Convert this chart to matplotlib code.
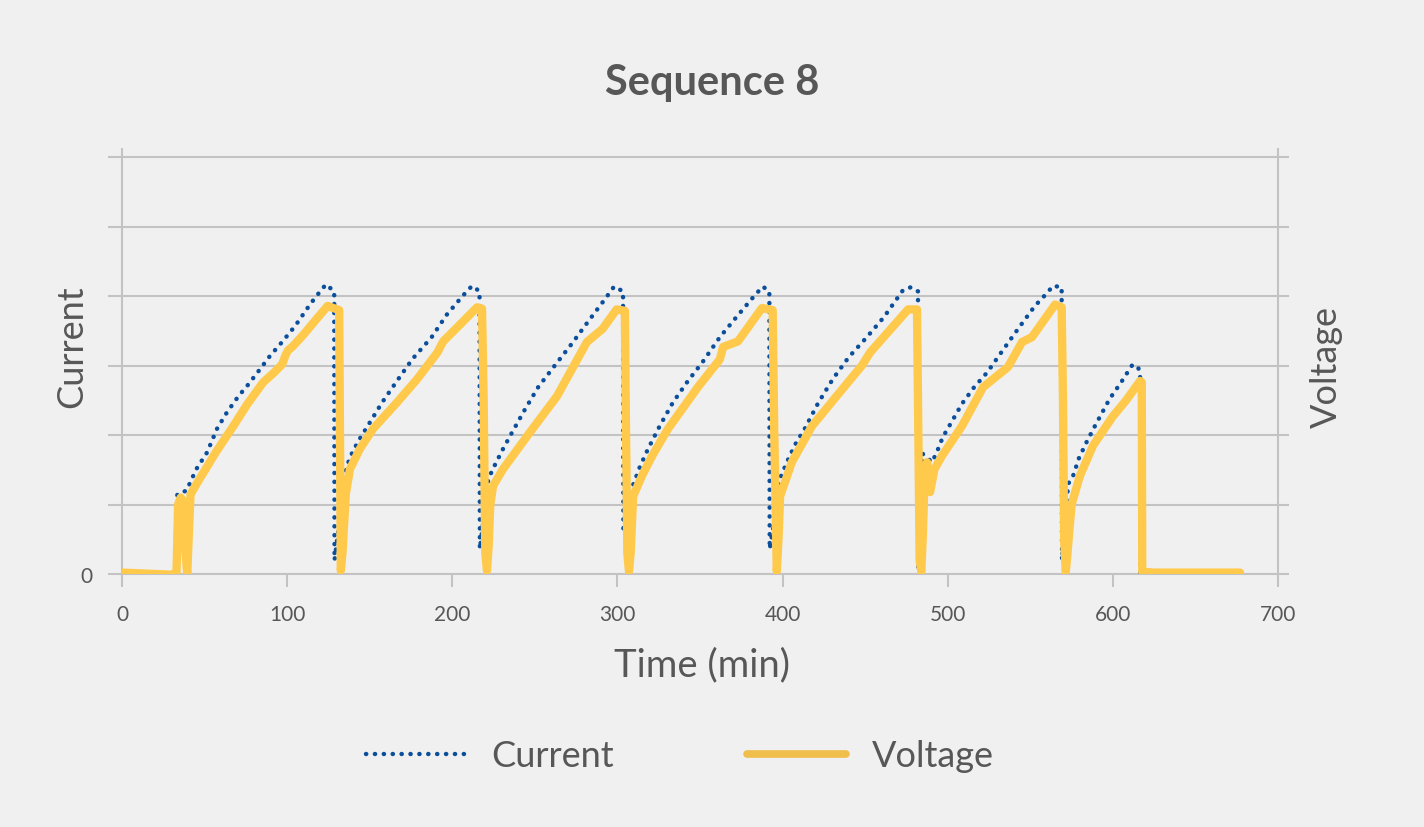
import matplotlib
matplotlib.use("Agg")
import matplotlib.pyplot as plt
from matplotlib.lines import Line2D

# Voltage trace (time in min, value in grid units)
volt_t = [0, 10, 20, 30, 33, 34, 35.5, 37, 38.5, 39.5, 40.5, 41.5, 47, 57, 67.4, 76, 85.5,
          92, 97, 99, 100.5, 103.5, 110, 117, 124.5, 131.5, 132, 132.5, 133.5, 135.5, 138,
          144, 152, 166.5, 178.5, 191, 194.5, 205, 215, 218, 219, 220, 221, 222, 223,
          224.7, 230.7, 247, 263.4, 281.5, 291, 299.5, 304.5, 305, 306, 307, 308, 309.5,
          315, 321, 330.6, 349, 362, 364, 373, 387.5, 394, 395, 396.5, 397.5, 398.5,
          405.6, 417.8, 439.6, 448, 453, 476, 481.4, 482, 483, 484, 485, 486, 487.5,
          489.3, 492, 496.5, 508.6, 521.4, 536.5, 545, 551, 565, 569, 569.8, 570.5,
          571.5, 572.5, 575, 580, 588, 600, 608, 616.5, 617.5, 617.8, 625, 650, 677]
volt_v = [0.02, 0.01, 0.0, -0.01, 0.02, 1.0, 1.1, 1.05, 0.3, 0.0, 0.6, 1.15, 1.37, 1.76,
          2.13, 2.45, 2.76, 2.9, 3.02, 3.15, 3.22, 3.28, 3.45, 3.65, 3.86, 3.8, 2.0, 0.05,
          0.3, 1.15, 1.51, 1.8, 2.09, 2.47, 2.8, 3.19, 3.35, 3.6, 3.84, 3.82, 2.5, 0.3,
          0.05, 0.4, 1.0, 1.27, 1.51, 2.04, 2.56, 3.34, 3.53, 3.81, 3.79, 2.5, 0.3, 0.04,
          0.3, 1.12, 1.42, 1.7, 2.09, 2.7, 3.09, 3.27, 3.35, 3.83, 3.8, 2.0, 0.04, 0.5,
          1.12, 1.61, 2.13, 2.76, 3.0, 3.19, 3.81, 3.81, 2.5, 0.2, 0.04, 0.6, 1.4, 1.61,
          1.18, 1.51, 1.7, 2.13, 2.69, 2.98, 3.34, 3.41, 3.88, 3.84, 2.5, 0.5, 0.03, 0.3,
          1.0, 1.41, 1.85, 2.27, 2.5, 2.78, 2.76, 0.03, 0.02, 0.02, 0.02]

# Current trace
curr_t = [0, 33, 33.5, 39, 45, 51.5, 57.5, 63.6, 70.5, 76.5, 83.6, 89.6, 96.9, 104.8,
          113.8, 120, 123.5, 128.5, 128.7, 132, 134.5, 138, 143, 149, 157.5, 166.5, 176,
          187.5, 196.5, 206.5, 212, 216.5, 216.7, 219.5, 221.8, 226, 230.7, 236, 244, 252,
          262, 272.5, 282.4, 292.5, 298, 303.4, 303.6, 307, 309, 313.7, 318.5, 325.8,
          333.6, 342.7, 351.8, 362, 372.4, 382, 388, 392, 392.2, 396, 398, 402.6, 407.5,
          413.6, 421.5, 430.5, 440, 451, 461.4, 473, 477.8, 482, 482.2, 483.5, 484.4,
          490.5, 493.5, 497, 502.6, 508.6, 516, 523.8, 533, 542.6, 552.8, 560.7, 563.7,
          569, 569.2, 571, 573, 576, 579.5, 584.3, 590, 598, 605, 611.5, 615, 616.5,
          616.7, 677]
curr_v = [0, 0, 1.15, 1.2, 1.51, 1.75, 2.09, 2.33, 2.56, 2.73, 2.95, 3.14, 3.34, 3.57,
          3.88, 4.07, 4.17, 4.07, 0.2, 0.8, 1.41, 1.68, 1.91, 2.14, 2.47, 2.78, 3.1, 3.41,
          3.73, 4.01, 4.15, 4.07, 0.36, 0.9, 1.37, 1.58, 1.8, 2.03, 2.37, 2.69, 3.0, 3.32,
          3.64, 3.96, 4.14, 4.07, 0.6, 0.9, 1.25, 1.55, 1.8, 2.14, 2.47, 2.78, 3.06, 3.41,
          3.71, 3.98, 4.14, 4.07, 0.36, 0.9, 1.35, 1.61, 1.86, 2.1, 2.46, 2.81, 3.12,
          3.41, 3.7, 4.09, 4.13, 4.07, 0.1, 1.2, 1.74, 1.61, 1.76, 1.97, 2.2, 2.45, 2.69,
          2.9, 3.21, 3.53, 3.86, 4.06, 4.15, 4.13, 0.2, 0.8, 1.3, 1.42, 1.67, 1.91, 2.17,
          2.52, 2.76, 3.0, 3.0, 2.88, 0.0, 0.0]

x_ticks = [0, 100, 200, 300, 400, 500, 600, 700]
y_ticks = [0, 1, 2, 3, 4, 5, 6]
y_tick_labels = ["0", "", "", "", "", "", ""]

BG = "#f0f0f0"
GRID = "#c3c3c3"
TXT = "#575757"
BLUE = "#0b4f9c"
YELLOW = "#ffc94b"
DOTS = (0, (0.05, 1.95))

plt.rcParams["font.family"] = ["Lato", "DejaVu Sans"]

fig = plt.figure(figsize=(14.24, 8.28), dpi=100, facecolor=BG)
ax = fig.add_axes([122 / 1424, 1 - 575 / 828, 1156 / 1424, 425 / 828], facecolor=BG)

ax.plot(curr_t, curr_v, color=BLUE, lw=3.2, linestyle=DOTS,
        dash_capstyle="round", zorder=3)
ax.plot(volt_t, volt_v, color=YELLOW, lw=6, solid_capstyle="round",
        solid_joinstyle="round", zorder=4)

ax.set_xlim(0, 700)
ax.set_ylim(0, 6.12)
ax.set_xticks(x_ticks)
ax.set_yticks(y_ticks)
ax.set_yticklabels(y_tick_labels)
ax.grid(axis="y", color=GRID, lw=1.5, zorder=0)

for s in ["left", "right", "bottom"]:
    ax.spines[s].set_color(GRID)
    ax.spines[s].set_linewidth(1.5)
ax.spines["top"].set_visible(False)

ax.tick_params(axis="x", length=9.5, width=1.5, color=GRID, labelsize=15,
               labelcolor=TXT, pad=12)
ax.tick_params(axis="y", length=10, width=1.5, color=GRID, labelsize=15,
               labelcolor=TXT, pad=11, right=True)
for t in ax.yaxis.get_major_ticks():
    t.tick2line.set_markersize(8)

fig.text(0.5, 1 - 83 / 828, "Sequence 8", ha="center", va="center", fontsize=30,
         fontweight="bold", color=TXT)
fig.text(702 / 1424, 1 - 665 / 828, "Time (min)", ha="center", va="center",
         fontsize=27.5, color=TXT)
fig.text(72 / 1424, 1 - 347 / 828, "Current", ha="center", va="center", rotation=90,
         fontsize=26, color=TXT)
fig.text(1326 / 1424, 1 - 367 / 828, "Voltage", ha="center", va="center", rotation=90,
         fontsize=26, color=TXT)

handles = [Line2D([], [], color=BLUE, lw=3.2, linestyle=DOTS, dash_capstyle="round"),
           Line2D([], [], color="#f0be4a", lw=5.5, solid_capstyle="round")]
leg = fig.legend(handles, ["Current", "Voltage"], loc="center",
                 bbox_to_anchor=(680 / 1424, 1 - 757 / 828), ncol=2, frameon=False,
                 handlelength=2.75, handletextpad=0.7, columnspacing=3.7,
                 labelcolor=TXT, prop={"size": 26})

fig.savefig("out.png", dpi=100, facecolor=BG)
